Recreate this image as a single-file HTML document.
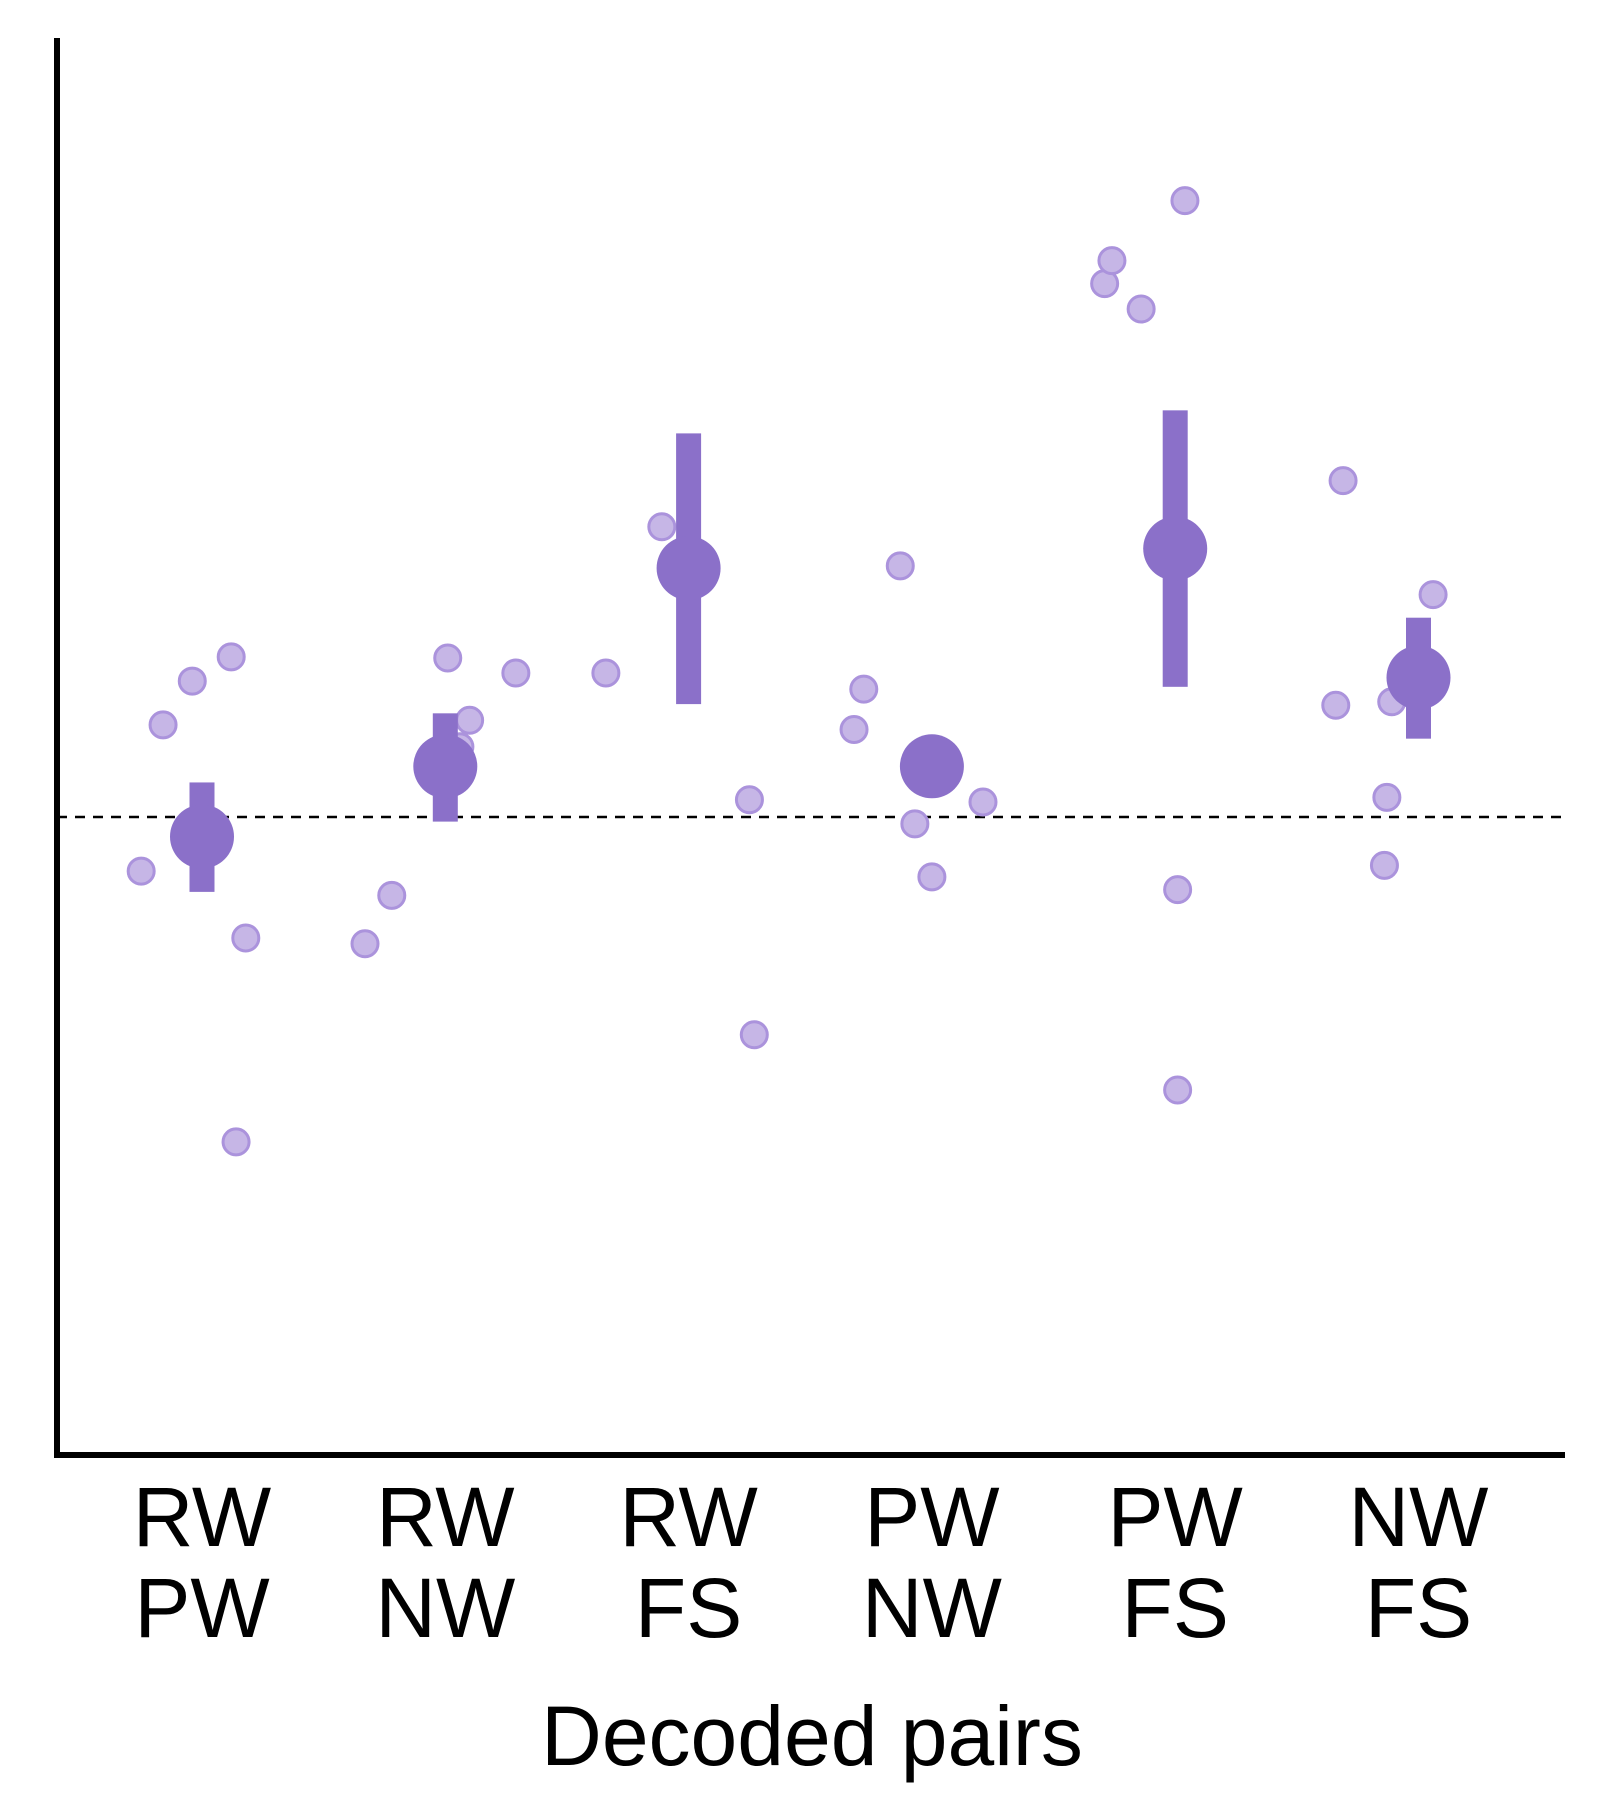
<!DOCTYPE html>
<html><head><meta charset="utf-8"><style>
html,body{margin:0;padding:0;background:#fff;}
svg{display:block;font-family:"Liberation Sans",sans-serif;}
</style></head><body>
<svg id="chart" width="1600" height="1800" viewBox="0 0 1600 1800">
<g id="axes">
<line x1="57" y1="38" x2="57" y2="1457" stroke="#000" stroke-width="6"/>
<line x1="54" y1="1455" x2="1565" y2="1455" stroke="#000" stroke-width="6"/>
<line id="chance" x1="57" y1="817" x2="1565" y2="817" stroke="#000" stroke-width="2.5" stroke-dasharray="10,8"/>
</g>
<g id="marks"></g>
<g id="labels"></g>
<text x="812" y="1765" font-size="84" text-anchor="middle" fill="#000">Decoded pairs</text>
</svg>
<script>
const categoriesTop = ["RW","RW","RW","PW","PW","NW"];
const categoriesBottom = ["PW","NW","FS","NW","FS","FS"];
const means = [-0.17, 0.44, 2.16, 0.44, 2.33, 1.21];
const errHigh = [0.30, 0.90, 3.33, 0.48, 3.53, 1.73];
const errLow = [-0.65, -0.04, 0.98, 0.40, 1.13, 0.68];
const pointsRWPW = [-0.47, 0.80, 1.18, 1.39, -1.05, -2.82];
const pointsRWNW = [-1.10, -0.68, 1.38, 0.84, 1.25, 0.61];
const pointsRWFS = [1.25, 2.52, 0.15, -1.89];
const pointsPWNW = [2.18, 1.11, 0.76, -0.06, -0.52, 0.13];
const pointsPWFS = [4.63, 4.83, 4.41, 5.35, -0.63, -2.37];
const pointsNWFS = [2.92, 1.93, 0.97, 1.00, 0.17, -0.42];
const jitterRWPW = [-0.25, -0.16, -0.04, 0.12, 0.18, 0.14];
const jitterRWNW = [-0.33, -0.22, 0.01, 0.10, 0.29, 0.06];
const jitterRWFS = [-0.34, -0.11, 0.25, 0.27];
const jitterPWNW = [-0.13, -0.28, -0.32, -0.07, 0, 0.21];
const jitterPWFS = [-0.29, -0.26, -0.14, 0.04, 0.01, 0.01];
const jitterNWFS = [-0.31, 0.06, -0.34, -0.11, -0.13, -0.14];

const allPoints = [pointsRWPW, pointsRWNW, pointsRWFS, pointsPWNW, pointsPWFS, pointsNWFS];
const allJitter = [jitterRWPW, jitterRWNW, jitterRWFS, jitterPWNW, jitterPWFS, jitterNWFS];

const NS = "http://www.w3.org/2000/svg";
function xScale(i){ return 202 + i*243.3; }
function yScale(v){ return 817 - v*115.2; }
const marks = document.getElementById('marks');
const labels = document.getElementById('labels');

allPoints.forEach((arr, i) => {
  arr.forEach((v, j) => {
    const c = document.createElementNS(NS, 'circle');
    c.setAttribute('cx', xScale(i + allJitter[i][j]));
    c.setAttribute('cy', yScale(v));
    c.setAttribute('r', 13);
    c.setAttribute('fill', '#c6b6e6');
    c.setAttribute('stroke', '#ab93dc');
    c.setAttribute('stroke-width', 3);
    
    
    marks.appendChild(c);
  });
});

means.forEach((m, i) => {
  const r = document.createElementNS(NS, 'rect');
  r.setAttribute('x', xScale(i) - 12.5);
  r.setAttribute('y', yScale(errHigh[i]));
  r.setAttribute('width', 25);
  r.setAttribute('height', yScale(errLow[i]) - yScale(errHigh[i]));
  r.setAttribute('fill', '#8b70c9');
  
  
  marks.appendChild(r);
  const c = document.createElementNS(NS, 'circle');
  c.setAttribute('cx', xScale(i));
  c.setAttribute('cy', yScale(m));
  c.setAttribute('r', 32);
  c.setAttribute('fill', '#8b70c9');
  
  
  marks.appendChild(c);

  const t1 = document.createElementNS(NS, 'text');
  t1.setAttribute('x', xScale(i));
  t1.setAttribute('y', 1546);
  t1.setAttribute('font-size', 84);
  t1.setAttribute('text-anchor', 'middle');
  t1.textContent = categoriesTop[i];
  
  
  labels.appendChild(t1);
  const t2 = document.createElementNS(NS, 'text');
  t2.setAttribute('x', xScale(i));
  t2.setAttribute('y', 1637);
  t2.setAttribute('font-size', 84);
  t2.setAttribute('text-anchor', 'middle');
  t2.textContent = categoriesBottom[i];
  
  
  labels.appendChild(t2);
});
</script>
</body></html>
